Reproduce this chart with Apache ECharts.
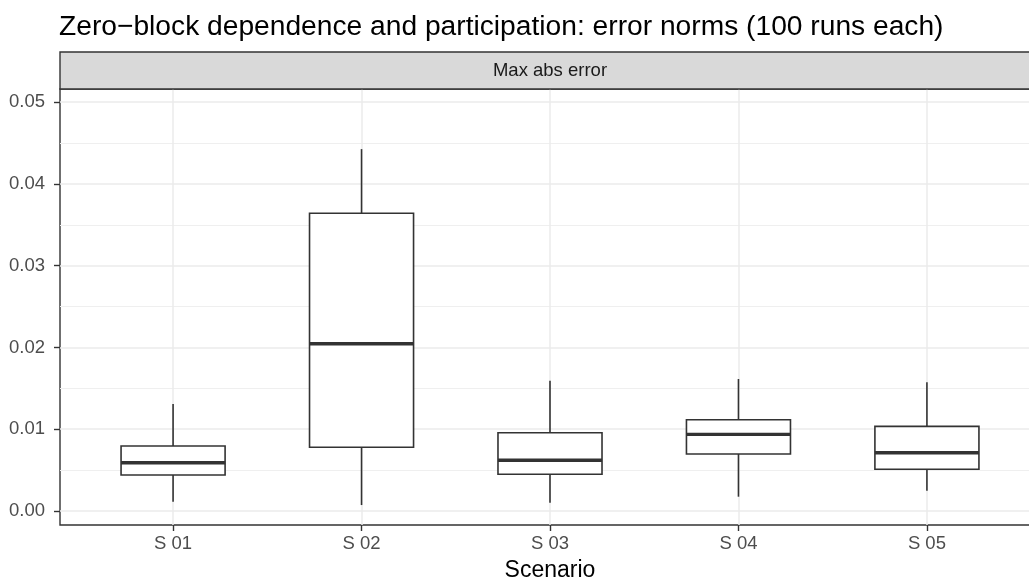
<!DOCTYPE html>
<html>
<head>
<meta charset="utf-8">
<script src="https://cdn.jsdelivr.net/npm/echarts@6/dist/echarts.min.js"></script>
<style>
  html, body { margin: 0; padding: 0; background: #ffffff; }
  #chart { width: 1029px; height: 579px; }
</style>
</head>
<body>
<div id="chart"></div>
<script>
// Max abs error per scenario (100 runs each): five-number box summaries
const scenarios   = ['S 01', 'S 02', 'S 03', 'S 04', 'S 05'];
const positions   = [1, 2, 3, 4, 5];
const whiskerLow  = [0.00114, 0.00073, 0.00101, 0.00175, 0.00248];
const lowerQuart  = [0.00440, 0.00780, 0.00449, 0.00697, 0.00510];
const medians     = [0.00590, 0.02045, 0.00620, 0.00937, 0.00713];
const upperQuart  = [0.00795, 0.03640, 0.00957, 0.01116, 0.01035];
const whiskerHigh = [0.01308, 0.04425, 0.01593, 0.01614, 0.01573];
const yTicks      = [0, 0.01, 0.02, 0.03, 0.04, 0.05];
const yMinorTicks = [0.005, 0.015, 0.025, 0.035, 0.045];

const FONT = '"Liberation Sans", Arial, Helvetica, sans-serif';
const INK = '#333333';
const GRID_MAJOR = '#EBEBEB';

const boxData = positions.map((p, i) => [
  p, whiskerLow[i], lowerQuart[i], medians[i], upperQuart[i], whiskerHigh[i]
]);

// panel edges in pixels (the panel runs slightly past the right edge of the canvas)
const PANEL_LEFT = 60;
const PANEL_RIGHT_PX = 1040;
const PANEL_TOP = 89;
const PANEL_BOTTOM = 525;

const chart = echarts.init(document.getElementById('chart'), null, { renderer: 'canvas' });

const BOX_HALF = 0.276;

chart.setOption({
  animation: false,
  backgroundColor: '#ffffff',
  title: {
    text: 'Zero\u2212block dependence and participation: error norms (100 runs each)',
    left: 59,
    top: 13,
    padding: 0,
    textStyle: { fontFamily: FONT, fontSize: 28.2, fontWeight: 'normal', color: '#000000' }
  },
  graphic: [
    {
      type: 'rect',
      z: 10,
      shape: { x: PANEL_LEFT, y: 52, width: PANEL_RIGHT_PX - PANEL_LEFT, height: PANEL_TOP - 52 },
      style: { fill: '#D9D9D9', stroke: INK, lineWidth: 1.4 }
    },
    {
      type: 'text',
      z: 11,
      x: (PANEL_LEFT + PANEL_RIGHT_PX) / 2,
      y: 70.5,
      style: {
        text: 'Max abs error',
        fontFamily: FONT, fontSize: 18.5, fill: '#1A1A1A',
        align: 'center', verticalAlign: 'middle'
      }
    }
  ],
  grid: {
    left: PANEL_LEFT,
    right: 1029 - PANEL_RIGHT_PX,
    top: PANEL_TOP,
    bottom: 579 - PANEL_BOTTOM,
    outerBoundsMode: 'none',
    show: true,
    borderColor: INK,
    borderWidth: 1.4,
    backgroundColor: '#ffffff',
    containLabel: false
  },
  xAxis: {
    type: 'value',
    min: 0.4,
    max: 5.6,
    position: 'bottom',
    name: 'Scenario',
    nameLocation: 'middle',
    nameGap: 34,
    nameTextStyle: { fontFamily: FONT, fontSize: 23, color: '#000000' },
    axisLine: { show: false, onZero: false },
    axisTick: { show: true, inside: false, length: 6, lineStyle: { color: INK, width: 1.4 }, customValues: positions },
    axisLabel: {
      customValues: positions,
      fontFamily: FONT, fontSize: 18.5, color: '#4D4D4D', margin: 9,
      formatter: v => scenarios[Math.round(v) - 1] || ''
    },
    splitLine: { show: true, lineStyle: { color: GRID_MAJOR, width: 1.5 } }
  },
  yAxis: [
    {
      type: 'value',
      min: -0.00171,
      max: 0.0516,
      axisLine: { show: false, onZero: false },
      axisTick: { show: true, length: 6, lineStyle: { color: INK, width: 1.4 }, customValues: yTicks },
      axisLabel: {
        customValues: yTicks,
        fontFamily: FONT, fontSize: 18.5, color: '#4D4D4D', margin: 15,
        formatter: v => v.toFixed(2)
      },
      splitLine: { show: true, lineStyle: { color: GRID_MAJOR, width: 1.5 } }
    },
    {
      // minor horizontal grid lines only
      type: 'value',
      min: -0.00171,
      max: 0.0516,
      position: 'left',
      axisLine: { show: false, onZero: false },
      axisTick: { show: false, length: 0, lineStyle: { color: 'rgba(0,0,0,0)', width: 0 }, customValues: yMinorTicks },
      axisLabel: { show: false, customValues: yMinorTicks },
      splitLine: { show: true, lineStyle: { color: '#EFEFEF', width: 1 } }
    }
  ],
  series: [{
    type: 'custom',
    xAxisIndex: 0,
    yAxisIndex: 0,
    z: 5,
    data: boxData,
    renderItem: function (params, api) {
      const x = api.value(0);
      const low = api.coord([x, api.value(1)]);
      const q1 = api.coord([x, api.value(2)]);
      const med = api.coord([x, api.value(3)]);
      const q3 = api.coord([x, api.value(4)]);
      const high = api.coord([x, api.value(5)]);
      const left = api.coord([x - BOX_HALF, api.value(3)])[0];
      const right = api.coord([x + BOX_HALF, api.value(3)])[0];
      const lineStyle = { stroke: INK, lineWidth: 1.6, fill: null };
      return {
        type: 'group',
        children: [
          { type: 'line', shape: { x1: high[0], y1: high[1], x2: q3[0], y2: q3[1] }, style: lineStyle },
          { type: 'line', shape: { x1: q1[0], y1: q1[1], x2: low[0], y2: low[1] }, style: lineStyle },
          {
            type: 'rect',
            shape: { x: left, y: q3[1], width: right - left, height: q1[1] - q3[1] },
            style: { fill: '#ffffff', stroke: INK, lineWidth: 1.6 }
          },
          { type: 'line', shape: { x1: left, y1: med[1], x2: right, y2: med[1] }, style: { stroke: INK, lineWidth: 3.4 } }
        ]
      };
    }
  }]
});
</script>
</body>
</html>
